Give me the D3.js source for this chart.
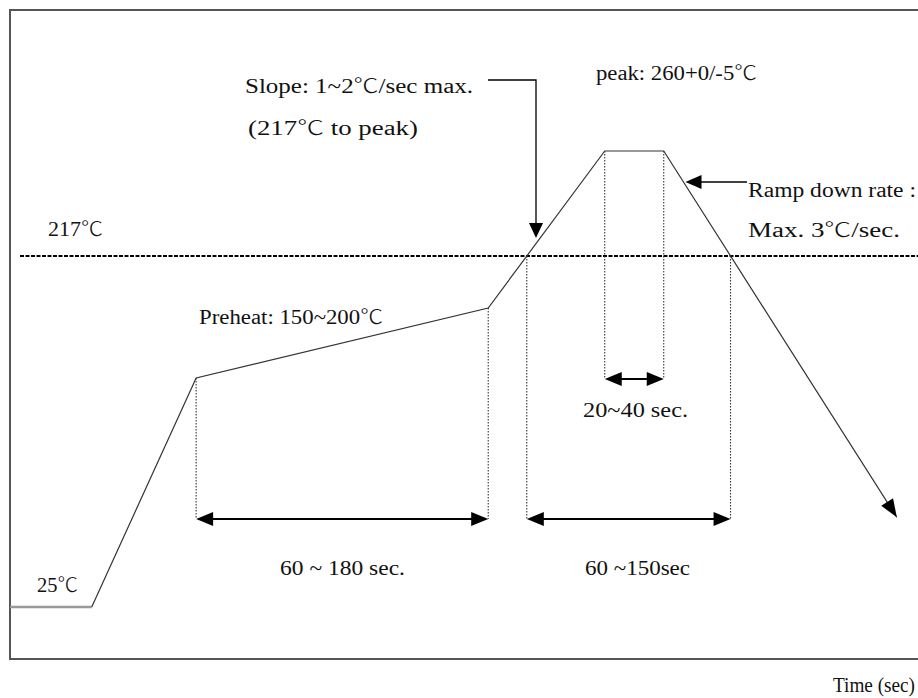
<!DOCTYPE html>
<html>
<head>
<meta charset="utf-8">
<script src="https://cdn.jsdelivr.net/npm/d3@7"></script>
<style>
  body { margin: 0; background: #fff; }
  text { font-family: "Liberation Serif", "Noto Sans CJK SC", serif; fill: #111; }
  .deg { font-family: "Noto Sans CJK SC", "Noto Sans CJK JP", sans-serif; font-weight: 300; }
</style>
</head>
<body>
<div id="vis"></div>
<script>
// reflow profile, schematic seconds vs temperature
var profileTime = [0, 27, 61.5, 158, 196.5, 216, 293];
var profileTemp = [25, 25, 150, 200, 260, 260, 74];
var liquidus = 217;

var labels = [
  { text: 'Slope: 1~2℃/sec max.', x: 245, y: 93, w: 228 },
  { text: '(217℃ to peak)', x: 248, y: 135, w: 170 },
  { text: 'peak: 260+0/-5℃', x: 596, y: 80, w: 161 },
  { text: '217℃', x: 48, y: 236, w: 55 },
  { text: 'Preheat: 150~200℃', x: 199, y: 324, w: 184 },
  { text: 'Ramp down rate :', x: 748, y: 197, w: 168 },
  { text: 'Max. 3℃/sec.', x: 748, y: 237, w: 152 },
  { text: '20~40 sec.', x: 583, y: 417, w: 105 },
  { text: '60 ~ 180 sec.', x: 280, y: 575, w: 125 },
  { text: '60 ~150sec', x: 585, y: 575, w: 105 },
  { text: '25℃', x: 37, y: 592, w: 41 },
  { text: 'Time (sec)', x: 833, y: 692, w: 82 }
];

var width = 918;
var height = 698;

var x = d3.scaleLinear().domain([0, 300]).range([10, 918]);
// the drawing is not to scale: piecewise temperature axis
var y = d3.scaleLinear()
  .domain([25, 150, 200, 217, 260])
  .range([607, 378, 308, 256, 151]);

var svg = d3.select('#vis').append('svg')
  .attr('width', width)
  .attr('height', height);

var pts = profileTime.map(function (t, i) { return [x(t), y(profileTemp[i])]; });

// where a segment crosses a given height (pixel space)
function crossAt(a, b, yy) {
  var k = (yy - a[1]) / (b[1] - a[1]);
  return a[0] + k * (b[0] - a[0]);
}
var yLiq = y(liquidus);
var xUp = crossAt(pts[3], pts[4], yLiq);
var xDown = crossAt(pts[5], pts[6], yLiq);

// frame
svg.append('path')
  .attr('d', 'M920,10H10V659H920')
  .attr('fill', 'none')
  .attr('stroke', '#555')
  .attr('stroke-width', 2);

// 217 line
svg.append('line')
  .attr('x1', 20).attr('x2', 918)
  .attr('y1', yLiq).attr('y2', yLiq)
  .attr('stroke', '#000')
  .attr('stroke-width', 2.2)
  .attr('stroke-dasharray', '4,1.5');

var arrowY = 519;
var peakArrowY = 379;

// dotted guides
var guides = [
  [pts[2][0], pts[2][1], arrowY],
  [pts[3][0], pts[3][1], arrowY],
  [xUp, yLiq, arrowY],
  [pts[4][0], pts[4][1], peakArrowY],
  [pts[5][0], pts[5][1], peakArrowY],
  [xDown, yLiq, arrowY]
];
svg.selectAll('.guide')
  .data(guides)
  .enter().append('line')
  .attr('class', 'guide')
  .attr('x1', function (d) { return d[0]; })
  .attr('x2', function (d) { return d[0]; })
  .attr('y1', function (d) { return d[1]; })
  .attr('y2', function (d) { return d[2]; })
  .attr('stroke', '#222')
  .attr('stroke-width', 1)
  .attr('stroke-dasharray', '1.5,1.5');

// flat start segment is drawn grey and heavier
svg.append('line')
  .attr('x1', pts[0][0]).attr('y1', pts[0][1])
  .attr('x2', pts[1][0]).attr('y2', pts[1][1])
  .attr('stroke', '#999')
  .attr('stroke-width', 2.5);

svg.append('path')
  .attr('d', d3.line()(pts.slice(1)))
  .attr('fill', 'none')
  .attr('stroke', '#333')
  .attr('stroke-width', 1.2);

// arrow head with tip at (tx,ty) pointing along angle a
function head(tx, ty, a, len, half) {
  var c = Math.cos(a), s = Math.sin(a);
  var bx = tx - c * len, by = ty - s * len;
  return 'M' + tx + ',' + ty +
    'L' + (bx - s * half) + ',' + (by + c * half) +
    'L' + (bx + s * half) + ',' + (by - c * half) + 'Z';
}

var arrows = svg.append('g');

function dimArrow(x1, x2, yy) {
  arrows.append('line')
    .attr('x1', x1 + 10).attr('x2', x2 - 10)
    .attr('y1', yy).attr('y2', yy)
    .attr('stroke', '#000').attr('stroke-width', 2);
  arrows.append('path').attr('d', head(x1, yy, Math.PI, 17, 7));
  arrows.append('path').attr('d', head(x2, yy, 0, 17, 7));
}
dimArrow(pts[2][0], pts[3][0], arrowY);
dimArrow(xUp, xDown, arrowY);
dimArrow(pts[4][0], pts[5][0], peakArrowY);

// end of profile arrow
var last = pts[pts.length - 1], prev = pts[pts.length - 2];
arrows.append('path')
  .attr('d', head(last[0], last[1], Math.atan2(last[1] - prev[1], last[0] - prev[0]), 18, 7));

// slope callout
arrows.append('path')
  .attr('d', 'M488,80H536V225')
  .attr('fill', 'none')
  .attr('stroke', '#000').attr('stroke-width', 1.3);
arrows.append('path').attr('d', head(536, 238, Math.PI / 2, 15, 7));

// ramp down callout
var rampY = 182;
var rampX = crossAt(pts[5], pts[6], rampY) + 2;
arrows.append('line')
  .attr('x1', rampX + 10).attr('x2', 747)
  .attr('y1', rampY).attr('y2', rampY)
  .attr('stroke', '#000').attr('stroke-width', 1.3);
arrows.append('path').attr('d', head(rampX, rampY, Math.PI, 16, 7));

arrows.selectAll('path').filter(function () { return !d3.select(this).attr('fill'); })
  .attr('fill', '#000');

var texts = svg.selectAll('.label')
  .data(labels)
  .enter().append('text')
  .attr('class', 'label')
  .attr('x', function (d) { return d.x; })
  .attr('y', function (d) { return d.y; })
  .attr('font-size', 20)
  .attr('textLength', function (d) { return d.w; })
  .attr('lengthAdjust', 'spacingAndGlyphs');

// the degree-celsius sign comes from a CJK face, as in the source
texts.each(function (d) {
  var t = d3.select(this);
  d.text.split(/(℃)/).forEach(function (part) {
    if (!part) return;
    t.append('tspan')
      .classed('deg', part === '℃')
      .text(part);
  });
});
</script>
</body>
</html>
